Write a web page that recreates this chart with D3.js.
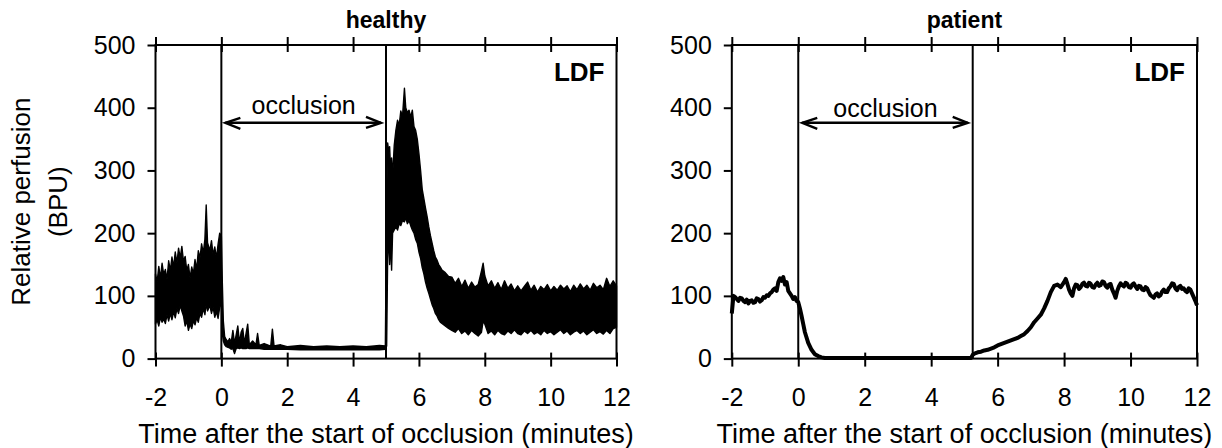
<!DOCTYPE html>
<html><head><meta charset="utf-8">
<script src="https://cdn.jsdelivr.net/npm/d3@7"></script>
<style>body{margin:0;background:#fff}svg{display:block}</style>
</head><body>
<svg id="c" width="1222" height="448"></svg>
<script>
const xTicks = [-2, 0, 2, 4, 6, 8, 10, 12];
const yTicks = [0, 100, 200, 300, 400, 500];
const panelTitles = ["healthy", "patient"];
const occlusionEnds = [5.0, 5.25];
const xTitle = "Time after the start of occlusion (minutes)";
const yTitle = ["Relative perfusion", "(BPU)"];

// healthy LDF: [time, lower envelope, upper envelope]
const healthyBaseline = [
 [-2.00,55,135],[-1.95,62,122],[-1.90,52,147],[-1.85,66,128],[-1.80,58,152],[-1.75,63,134],
 [-1.70,56,142],[-1.65,70,126],[-1.60,60,156],[-1.55,72,140],[-1.50,62,162],[-1.45,75,146],
 [-1.40,65,170],[-1.35,80,152],[-1.30,72,176],[-1.25,85,160],[-1.20,76,179],[-1.15,68,155],
 [-1.10,52,163],[-1.05,60,140],[-1.00,45,150],[-0.95,55,128],[-0.90,48,146],[-0.85,60,135],
 [-0.80,54,158],[-0.75,65,142],[-0.70,58,172],[-0.65,72,160],[-0.60,66,183],[-0.55,80,168],
 [-0.50,70,190],[-0.46,88,245],[-0.42,76,185],[-0.35,85,172],[-0.30,72,188],[-0.25,82,165],
 [-0.20,66,178],[-0.15,75,160],[-0.10,64,182],[-0.05,82,200],[0.00,90,195]
];
const healthyOcclusion = [
 [0.03,40,120],[0.06,28,60],[0.10,22,35],[0.15,19,30],[0.20,18,27],[0.25,17,32],[0.30,15,26],
 [0.35,16,45],[0.40,8,24],[0.45,16,38],[0.50,17,52],[0.55,16,25],[0.60,17,42],[0.65,16,48],
 [0.70,16,24],[0.75,16,40],[0.80,17,55],[0.85,16,22],[0.95,16,28],[1.05,16,22],[1.10,16,40],
 [1.15,16,21],[1.30,15,24],[1.50,15,20],[1.55,15,47],[1.60,15,20],[1.80,15,22],[2.00,15,19],
 [2.40,14,21],[2.80,14,19],[3.20,14,20],[3.60,14,19],[4.00,14,20],[4.40,14,19],[4.80,14,21],
 [4.98,15,20]
];
const healthyHyperaemia = [
 [5.02,20,250],[5.05,160,344],[5.08,200,330],[5.11,150,338],[5.14,190,300],[5.17,141,320],
 [5.20,200,290],[5.25,205,340],[5.30,210,364],[5.35,205,380],[5.40,215,372],[5.45,212,395],
 [5.50,220,385],[5.56,218,431],[5.60,225,400],[5.65,215,392],[5.70,220,396],[5.75,212,385],
 [5.80,205,396],[5.85,200,370],[5.90,190,364],[5.95,184,350],[6.00,170,327],[6.05,160,300],
 [6.10,145,270],[6.15,135,255],[6.20,122,240],[6.25,112,226],[6.30,104,210],[6.35,95,196],
 [6.40,86,184],[6.45,80,172],[6.50,72,162],[6.55,68,157],[6.60,62,150],[6.65,58,146],
 [6.70,56,141],[6.80,52,137],[6.90,48,131]
];
const healthyRecovery = [
 [7.0,45,130],[7.1,42,120],[7.2,48,128],[7.3,40,115],[7.4,44,125],[7.5,38,112],[7.6,45,122],
 [7.7,40,114],[7.8,36,118],[7.9,42,140],[7.95,60,152],[8.0,55,132],[8.1,40,116],[8.2,44,124],
 [8.3,38,112],[8.4,45,121],[8.5,40,110],[8.6,38,124],[8.7,44,112],[8.8,40,119],[8.9,46,108],
 [9.0,40,116],[9.1,38,108],[9.2,44,115],[9.3,40,122],[9.4,45,109],[9.5,39,117],[9.6,42,106],
 [9.7,38,115],[9.8,45,110],[9.9,40,118],[10.0,43,108],[10.1,38,115],[10.2,42,109],[10.3,46,117],
 [10.4,40,111],[10.5,44,116],[10.6,38,107],[10.7,42,117],[10.8,45,110],[10.9,40,119],[11.0,44,111],
 [11.1,38,117],[11.2,42,109],[11.3,46,120],[11.4,40,113],[11.5,43,117],[11.6,39,110],[11.7,45,128],
 [11.8,40,115],[11.9,48,124],[12.0,50,116]
];

// patient LDF: [time, perfusion]
const patientSeries = [
 [-2.0,72],[-1.95,100],[-1.9,98],[-1.85,95],[-1.8,92],[-1.75,97],[-1.7,96],[-1.65,92],[-1.6,90],
 [-1.55,94],[-1.5,88],[-1.45,92],[-1.4,93],[-1.35,89],[-1.3,90],[-1.25,96],[-1.2,95],[-1.15,91],
 [-1.1,93],[-1.05,98],[-1.0,97],[-0.95,101],[-0.9,100],[-0.85,104],[-0.8,106],[-0.75,110],
 [-0.7,112],[-0.65,108],[-0.6,122],[-0.55,128],[-0.5,124],[-0.45,130],[-0.4,118],[-0.35,122],
 [-0.3,108],[-0.25,104],[-0.2,100],[-0.15,95],[-0.1,98],[-0.05,92],
 [0.0,90],[0.05,80],[0.1,68],[0.15,55],[0.2,42],[0.3,25],[0.4,14],[0.5,7],[0.6,4],[0.7,2],[0.8,1],
 [1.0,1],[1.5,1],[2.0,1],[2.5,1],[3.0,1],[3.5,1],[4.0,1],[4.5,1],[5.0,1],[5.2,1],
 [5.25,6],[5.3,8],[5.4,10],[5.5,11],[5.6,13],[5.7,14],[5.8,16],[5.9,18],[6.0,21],[6.1,23],
 [6.2,25],[6.3,27],[6.4,29],[6.5,31],[6.6,33],[6.7,36],[6.8,39],[6.9,44],[7.0,50],[7.1,58],
 [7.2,64],[7.3,70],[7.4,80],[7.5,92],[7.6,106],[7.7,116],[7.8,118],[7.9,114],[8.0,122],[8.05,127],
 [8.1,119],[8.15,110],[8.2,104],[8.25,100],[8.3,112],[8.35,118],[8.4,117],[8.45,111],[8.5,114],
 [8.55,119],[8.6,121],[8.65,116],[8.7,115],[8.75,121],[8.8,119],[8.85,114],[8.9,113],[8.95,118],
 [9.0,121],[9.05,116],[9.1,117],[9.15,123],[9.2,122],[9.25,116],[9.3,113],[9.35,118],[9.4,119],
 [9.45,110],[9.5,104],[9.55,97],[9.6,108],[9.65,115],[9.7,120],[9.75,117],[9.8,115],[9.85,121],
 [9.9,119],[9.95,114],[10.0,113],[10.05,118],[10.1,120],[10.15,115],[10.2,111],[10.25,116],
 [10.3,115],[10.35,110],[10.4,109],[10.45,114],[10.5,112],[10.55,106],[10.6,101],[10.65,99],
 [10.7,97],[10.75,102],[10.8,104],[10.85,99],[10.9,101],[10.95,107],[11.0,110],[11.05,106],
 [11.1,106],[11.15,112],[11.2,115],[11.25,120],[11.3,119],[11.35,112],[11.4,109],[11.45,114],
 [11.5,116],[11.55,111],[11.6,112],[11.65,108],[11.7,106],[11.75,112],[11.8,110],[11.85,104],
 [11.9,98],[11.95,92],[12.0,85]
];

const FONT = "'Liberation Sans', Arial, sans-serif";
const svg = d3.select("#c");
const panels = [
  { x0: 155.5, x1: 616.5, title: panelTitles[0], end: occlusionEnds[0],
    occY: 390, kind: "band", data: healthyBaseline.concat(healthyOcclusion, healthyHyperaemia, healthyRecovery) },
  { x0: 731.8, x1: 1197, title: panelTitles[1], end: occlusionEnds[1],
    occY: 386, kind: "line", data: patientSeries }
];

panels.forEach((p, i) => {
  const x = d3.scaleLinear().domain([-2, 12]).range([p.x0, p.x1]);
  const y = d3.scaleLinear().domain([0, 500]).range([358.6, 45]);
  const g = svg.append("g");

  // data
  if (p.kind === "band") {
    const area = d3.area().x(d => x(d[0])).y0(d => y(d[1])).y1(d => y(d[2]));
    g.append("path").attr("d", area(p.data)).attr("fill", "#000")
      .attr("stroke", "#000").attr("stroke-width", 1.4).attr("stroke-linejoin", "round");
  } else {
    const line = d3.line().x(d => x(d[0])).y(d => y(d[1]));
    g.append("path").attr("d", line(p.data)).attr("fill", "none")
      .attr("stroke", "#000").attr("stroke-width", 4).attr("stroke-linejoin", "round");
  }

  // vertical occlusion lines
  [0, p.end].forEach(t => {
    g.append("line").attr("x1", x(t)).attr("x2", x(t)).attr("y1", y(0)).attr("y2", y(500))
      .attr("stroke", "#000").attr("stroke-width", 2);
  });

  // frame
  g.append("rect").attr("x", x(-2)).attr("y", y(500)).attr("width", x(12) - x(-2))
    .attr("height", y(0) - y(500)).attr("fill", "none").attr("stroke", "#000").attr("stroke-width", 2);

  // bottom axis
  const ax = g.append("g").attr("transform", `translate(0,${y(0)})`)
    .call(d3.axisBottom(x).tickValues(xTicks).tickFormat(d => String(d))
      .tickSize(8).tickPadding(22).tickSizeOuter(0));
  ax.select(".domain").remove();
  ax.selectAll(".tick line").attr("y1", -6).attr("y2", 8).attr("stroke-width", 2);
  ax.selectAll(".tick text").attr("font-family", FONT).attr("font-size", 25).attr("fill", "#000");

  // top axis ticks
  const axT = g.append("g").attr("transform", `translate(0,${y(500)})`)
    .call(d3.axisTop(x).tickValues(xTicks).tickSize(8).tickFormat("").tickSizeOuter(0));
  axT.select(".domain").remove();
  axT.selectAll(".tick line").attr("y1", -8).attr("y2", 7).attr("stroke-width", 2);

  // left axis
  const ay = g.append("g").attr("transform", `translate(${x(-2)},0)`)
    .call(d3.axisLeft(y).tickValues(yTicks).tickFormat(d => String(d))
      .tickSize(8).tickPadding(12).tickSizeOuter(0));
  ay.select(".domain").remove();
  ay.selectAll(".tick line").attr("stroke-width", 2);
  ay.selectAll(".tick text").attr("font-family", FONT).attr("font-size", 25).attr("fill", "#000");

  // occlusion label + arrow
  const xa = x(0) + 4, xb = x(p.end) - 5, ya = y(376);
  g.append("text").attr("x", (x(0) + x(p.end)) / 2).attr("y", y(p.occY))
    .attr("text-anchor", "middle").attr("font-family", FONT).attr("font-size", 25).text("occlusion");
  g.append("line").attr("x1", xa).attr("x2", xb).attr("y1", ya).attr("y2", ya)
    .attr("stroke", "#000").attr("stroke-width", 2.6);
  g.append("path").attr("d", `M${xa + 15},${ya - 5} L${xa},${ya} L${xa + 15},${ya + 6}`)
    .attr("fill", "none").attr("stroke", "#000").attr("stroke-width", 2.4);
  g.append("path").attr("d", `M${xb - 15},${ya - 6} L${xb},${ya} L${xb - 15},${ya + 5}`)
    .attr("fill", "none").attr("stroke", "#000").attr("stroke-width", 2.4);

  // LDF
  g.append("text").attr("x", x(12) - 12).attr("y", y(442)).attr("text-anchor", "end")
    .attr("font-family", FONT).attr("font-weight", "bold").attr("font-size", 26).text("LDF");

  // title
  g.append("text").attr("x", (x(-2) + x(12)) / 2).attr("y", 28).attr("text-anchor", "middle")
    .attr("font-family", FONT).attr("font-weight", "bold").attr("font-size", 23).text(p.title);

  // x title
  g.append("text").attr("x", (x(-2) + x(12)) / 2).attr("y", 443).attr("text-anchor", "middle")
    .attr("font-family", FONT).attr("font-size", 27).text(xTitle);
});

// y title
const yt = svg.append("text").attr("transform", "translate(30,201.7) rotate(-90)")
  .attr("text-anchor", "middle").attr("font-family", FONT).attr("font-size", 26);
yt.append("tspan").attr("x", 0).attr("y", 0).text(yTitle[0]);
yt.append("tspan").attr("x", 0).attr("y", 37).text(yTitle[1]);
</script>
</body></html>
